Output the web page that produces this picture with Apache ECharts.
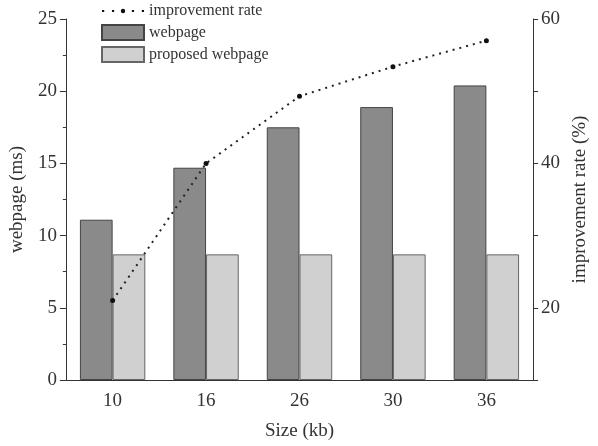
<!DOCTYPE html>
<html>
<head>
<meta charset="utf-8">
<script src="https://cdn.jsdelivr.net/npm/echarts@6/dist/echarts.min.js"></script>
<style>
  html, body { margin: 0; padding: 0; background: #fff; }
  #chart { width: 598px; height: 446px; }
</style>
</head>
<body>
<div id="chart"></div>
<script>
// data
var categories = ['10', '16', '26', '30', '36'];
var webpage = [11.1, 14.7, 17.5, 18.9, 20.4];
var proposed = [8.7, 8.7, 8.7, 8.7, 8.7];
var rate = [21, 40, 49.3, 53.4, 57];
var rateLabels = [20, 40, 60];

var font = 'Liberation Serif';
var txt = '#333';
var axisCol = '#333';

// dotted line with a dot in the middle, for the legend
var dotIcon = 'path://M2,1h2v2h-2z M11,1h2v2h-2z M21,0a2,2 0 1,0 0.01,0z M29,1h2v2h-2z M38,1h2v2h-2z';

var chart = echarts.init(document.getElementById('chart'));
chart.setOption({
  animation: false,
  textStyle: { fontFamily: font, color: txt },
  legend: {
    orient: 'vertical',
    left: 96,
    top: -2,
    itemWidth: 42,
    itemHeight: 15,
    itemGap: 5,
    textStyle: { fontFamily: font, fontSize: 16, color: txt },
    data: [
      { name: 'improvement rate', icon: dotIcon },
      { name: 'webpage', icon: 'rect' },
      { name: 'proposed webpage', icon: 'rect' }
    ]
  },
  grid: { left: 65, right: 60, top: 19, bottom: 66 },
  xAxis: [{
    type: 'category',
    data: categories,
    name: 'Size (kb)',
    nameLocation: 'middle',
    nameGap: 42,
    nameTextStyle: { fontFamily: font, fontSize: 19, color: txt },
    axisLine: { lineStyle: { color: axisCol } },
    axisTick: { alignWithLabel: true, length: 7, lineStyle: { color: axisCol } },
    axisLabel: { fontFamily: font, fontSize: 19, color: txt, margin: 12 }
  }, {
    // short ticks between categories
    type: 'category',
    data: categories,
    position: 'bottom',
    axisLine: { show: false },
    axisTick: { length: 3, lineStyle: { color: axisCol } },
    axisLabel: { show: false }
  }],
  yAxis: [{
    type: 'value',
    min: 0,
    max: 25,
    interval: 5,
    name: 'webpage (ms)',
    nameLocation: 'middle',
    nameRotate: 90,
    nameGap: 36,
    nameTextStyle: { fontFamily: font, fontSize: 19, color: txt },
    axisLine: { show: true, lineStyle: { color: axisCol } },
    axisTick: { show: true, length: 6, lineStyle: { color: axisCol } },
    minorTick: { show: true, splitNumber: 2, length: 3, lineStyle: { color: axisCol } },
    splitLine: { show: false },
    axisLabel: { fontFamily: font, fontSize: 19, color: txt, margin: 9 }
  }, {
    type: 'value',
    min: 10,
    max: 60,
    interval: 10,
    position: 'right',
    name: 'improvement rate (%)',
    nameLocation: 'middle',
    nameRotate: 90,
    nameGap: 36,
    nameTextStyle: { fontFamily: font, fontSize: 19, color: txt },
    axisLine: { show: true, lineStyle: { color: axisCol } },
    axisTick: { show: true, length: 5, lineStyle: { color: axisCol } },
    splitLine: { show: false },
    axisLabel: {
      fontFamily: font, fontSize: 19, color: txt, margin: 8,
      formatter: function (v) { return rateLabels.indexOf(v) >= 0 ? String(v) : ''; }
    }
  }],
  series: [{
    name: 'webpage',
    type: 'bar',
    data: webpage,
    barGap: '0%',
    barCategoryGap: '30%',
    itemStyle: { color: '#8a8a8a', borderColor: '#444', borderWidth: 1 }
  }, {
    name: 'proposed webpage',
    type: 'bar',
    data: proposed,
    itemStyle: { color: '#d0d0d0', borderColor: '#666', borderWidth: 1 }
  }, {
    name: 'improvement rate',
    type: 'line',
    yAxisIndex: 1,
    data: rate,
    symbol: 'circle',
    symbolSize: 5,
    z: 5,
    itemStyle: { color: '#111' },
    lineStyle: { color: '#222', width: 2, type: [2, 5] }
  }]
});
</script>
</body>
</html>
